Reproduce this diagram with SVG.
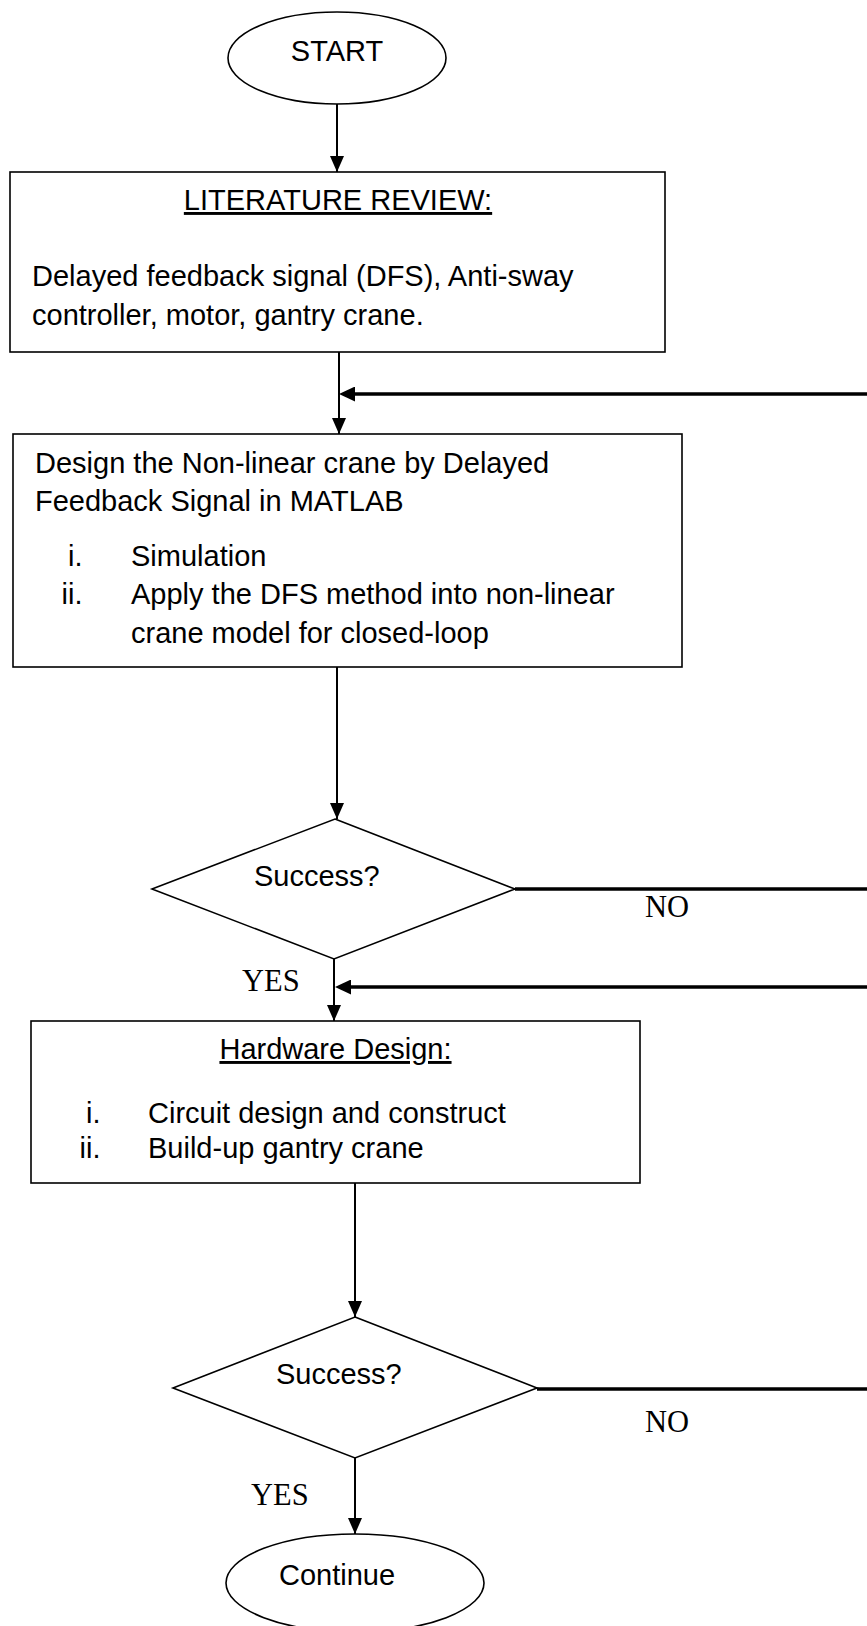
<svg xmlns="http://www.w3.org/2000/svg" width="867" height="1626" viewBox="0 0 867 1626">
  <style>
    .shape { fill: #ffffff; stroke: #000000; stroke-width: 1.6; }
    .flow { fill: none; stroke: #000000; stroke-width: 2; }
    .loop { fill: none; stroke: #000000; stroke-width: 3.6; }
    .sans { font-family: "Liberation Sans", Arial, sans-serif; font-size: 29px; fill: #000000; }
    .serif { font-family: "Liberation Serif", "Times New Roman", serif; font-size: 30.5px; fill: #000000; }
    .ul { text-decoration: underline; }
  </style>
  <defs>
    <marker id="arrow" markerUnits="userSpaceOnUse" markerWidth="16" markerHeight="14" refX="16" refY="7" orient="auto">
      <path d="M0,0 L16,7 L0,14 z" fill="#000000"/>
    </marker>
    <marker id="arrowThick" markerUnits="userSpaceOnUse" markerWidth="16" markerHeight="15" refX="3" refY="7.5" orient="auto">
      <path d="M0,0 L16,7.5 L0,15 z" fill="#000000"/>
    </marker>
  </defs>
  <rect width="867" height="1626" fill="#ffffff"/>

  <!-- connectors -->
  <g id="connectors">
    <line class="flow" x1="337" y1="104" x2="337" y2="172" marker-end="url(#arrow)"/>
    <line class="flow" x1="339" y1="352" x2="339" y2="434" marker-end="url(#arrow)"/>
    <line class="loop" x1="867" y1="394" x2="352" y2="394" marker-end="url(#arrowThick)"/>
    <line class="flow" x1="337" y1="667" x2="337" y2="819" marker-end="url(#arrow)"/>
    <line class="loop" x1="515" y1="889" x2="867" y2="889"/>
    <line class="flow" x1="334" y1="959" x2="334" y2="1021" marker-end="url(#arrow)"/>
    <line class="loop" x1="867" y1="987" x2="348" y2="987" marker-end="url(#arrowThick)"/>
    <line class="flow" x1="355" y1="1183" x2="355" y2="1317" marker-end="url(#arrow)"/>
    <line class="loop" x1="537" y1="1389" x2="867" y2="1389"/>
    <line class="flow" x1="355" y1="1458" x2="355" y2="1534" marker-end="url(#arrow)"/>
    <text class="serif" x="645" y="917">NO</text>
    <text class="serif" x="242" y="991">YES</text>
    <text class="serif" x="645" y="1432">NO</text>
    <text class="serif" x="251" y="1505">YES</text>
  </g>

  <!-- terminator: start -->
  <g id="start">
    <ellipse class="shape" cx="337" cy="58" rx="109" ry="46"/>
    <text class="sans" x="337" y="61" text-anchor="middle">START</text>
  </g>

  <!-- literature review -->
  <g id="literature">
    <rect class="shape" x="10" y="172" width="655" height="180"/>
    <text class="sans ul" x="338" y="210" text-anchor="middle">LITERATURE REVIEW:</text>
    <text class="sans" x="32" y="286">Delayed feedback signal (DFS), Anti-sway</text>
    <text class="sans" x="32" y="325">controller, motor, gantry crane.</text>
  </g>

  <!-- simulation design -->
  <g id="design">
    <rect class="shape" x="13" y="434" width="669" height="233"/>
    <text class="sans" x="35" y="473">Design the Non-linear crane by Delayed</text>
    <text class="sans" x="35" y="511">Feedback Signal in MATLAB</text>
    <text class="sans" x="82.5" y="566" text-anchor="end">i.</text>
    <text class="sans" x="131" y="566">Simulation</text>
    <text class="sans" x="82.5" y="604" text-anchor="end">ii.</text>
    <text class="sans" x="131" y="604">Apply the DFS method into non-linear</text>
    <text class="sans" x="131" y="643">crane model for closed-loop</text>
  </g>

  <!-- decision 1 -->
  <g id="decision1">
    <polygon class="shape" points="335,819 515,889 334,959 152,889"/>
    <text class="sans" x="254" y="886">Success?</text>
  </g>

  <!-- hardware design -->
  <g id="hardware">
    <rect class="shape" x="31" y="1021" width="609" height="162"/>
    <text class="sans ul" x="335.5" y="1059" text-anchor="middle">Hardware Design:</text>
    <text class="sans" x="100.5" y="1123" text-anchor="end">i.</text>
    <text class="sans" x="148" y="1123">Circuit design and construct</text>
    <text class="sans" x="100.5" y="1158" text-anchor="end">ii.</text>
    <text class="sans" x="148" y="1158">Build-up gantry crane</text>
  </g>

  <!-- decision 2 -->
  <g id="decision2">
    <polygon class="shape" points="355,1317 537,1388 355,1458 173,1388"/>
    <text class="sans" x="276" y="1384">Success?</text>
  </g>

  <!-- terminator: continue -->
  <g id="continue">
    <ellipse class="shape" cx="355" cy="1583" rx="129" ry="49"/>
    <text class="sans" x="279" y="1585">Continue</text>
  </g>
</svg>
